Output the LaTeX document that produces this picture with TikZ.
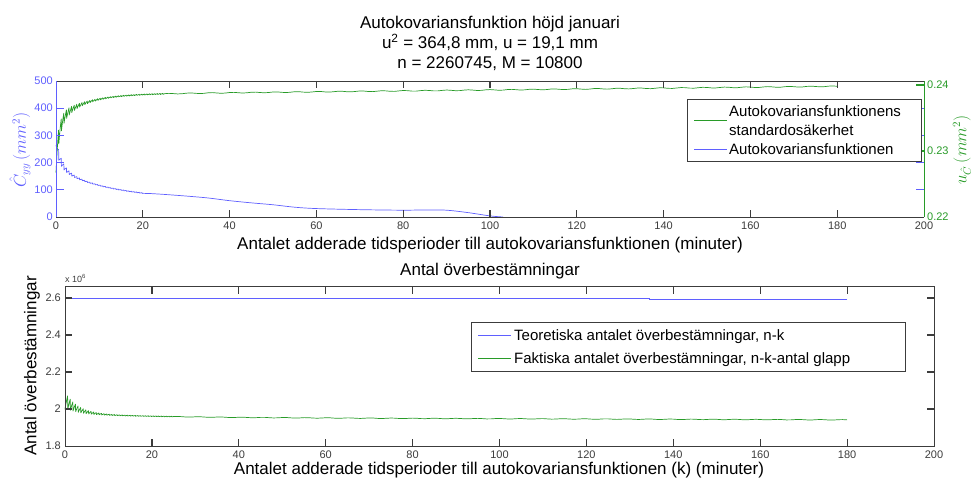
\documentclass[tikz,border=0pt]{standalone}
\usepackage{fontspec}
\setmainfont{Liberation Sans}
\usepackage{amsmath}

\definecolor{plotblue}{RGB}{95,95,255}
\definecolor{plotgreen}{RGB}{40,155,40}
\definecolor{axgray}{RGB}{60,60,60}

\begin{document}
\begin{tikzpicture}[x=1pt,y=1pt,
    lbl/.style={font=\fontsize{17}{20}\selectfont,inner sep=0pt},
    ticklbl/.style={font=\fontsize{11}{13}\selectfont,text=axgray,inner sep=0pt},
    legtext/.style={font=\fontsize{15}{18}\selectfont,inner sep=0pt,anchor=base west},
    axline/.style={axgray,line width=0.9pt},
    tickmark/.style={line width=1.2pt},
    curve/.style={line width=0.7pt,line join=round},
    declare function={
        gtop(\t)=450+0.17*\t-150*exp(max(-9,-\t/0.8))-100*exp(max(-9,-\t/6));
        btop(\t)=30*exp(max(-9,-\t/0.3))+75*exp(max(-9,-\t/1.2))+80*exp(max(-9,-\t/8))+105-1.2*\t;
        gbot(\t)=0.155-0.00008*\t+0.07*exp(max(-9,-\t/3))+0.02*exp(max(-9,-\t/20));
    }]
\useasboundingbox (0,0) rectangle (972,-481);

% titles
\node[lbl,anchor=base] (title1) at (490,-28.3) {Autokovariansfunktion höjd januari};
\node[lbl,anchor=base] (title2) at (490,-48.3) {u\textsuperscript{2} = 364,8 mm, u = 19,1 mm};
\node[lbl,anchor=base] (title3) at (490,-68.3) {n = 2260745, M = 10800};

% upper plot
\begin{scope}[shift={(56,-217)},x=4.34pt,y=0.272pt]
    \draw[plotblue,curve] plot[domain=0:20,samples=401]
        (\x,{btop(\x)+(50*exp(max(-9,-\x/2))+3)*(mod(\x,0.6)/0.6-0.5)})
        -- plot[smooth] coordinates {(22,86) (25,83) (30,77) (35,70) (40,60) (45,52) (50,45)
        (55,36) (60,31) (70,27) (80,25) (85,26) (90,25) (95,16) (100,4) (103,0)};
    \draw[plotgreen,curve] plot[domain=0:25,samples=501]
        (\x,{gtop(\x)+(70*exp(max(-9,-\x/3))+4)*(mod(\x,0.6)/0.6-0.5)})
        -- plot[domain=25:180,samples=156] (\x,{gtop(\x)+1.5*sin(\x*73)});
    \draw[axline] (0,0) -- (200,0) (0,500) -- (200,500);
    \draw[plotblue,line width=0.9pt] (0,0) -- (0,500);
    \draw[plotgreen,line width=0.9pt] (200,0) -- (200,500);
    % ticks
    \draw[axgray,tickmark] \foreach \k in {20,40,...,180} {(\k,0) -- (\k,27) (\k,500) -- (\k,473)};
    \draw[plotblue,tickmark] \foreach \v in {100,200,300,400} {(0,\v) -- (1.85,\v) (200,\v) -- (198.15,\v)};
    \draw[plotgreen,tickmark] (200,242.5) -- (198.15,242.5) (200,485) -- (198.15,485);
    \foreach \k in {0,20,...,200}
        \node[ticklbl,anchor=base] (tx\k) at ([yshift=-13pt]\k,0) {\k};
    \foreach \v in {0,100,...,500}
        \node[ticklbl,text=plotblue,anchor=east] (ty\v) at ([xshift=-3pt]0,\v) {\v};
    \foreach \v/\lab in {0/0.22,242.5/0.23,485/0.24}
        \node[ticklbl,text=plotgreen,anchor=west] (tr\lab) at ([xshift=3pt]200,\v) {\lab};
\end{scope}
\node[rotate=90,text=plotblue,font=\fontsize{16}{18}\selectfont,inner sep=0pt] (ylabtop) at (20,-150) {$\hat{C}_{yy}\,(mm^2)$};
\node[rotate=90,text=plotgreen,font=\fontsize{16}{18}\selectfont,inner sep=0pt] (ylabright) at (962,-150) {$u_{\hat{C}}\,(mm^2)$};
\node[lbl,anchor=base] (xlabtop) at (490,-250) {Antalet adderade tidsperioder till autokovariansfunktionen (minuter)};

% upper legend
\draw[axline,fill=white] (687,-99) rectangle (921,-161);
\draw[plotgreen,curve] (694,-120) -- (727,-120);
\draw[plotblue,curve] (694,-149) -- (727,-149);
\node[legtext] (leg1) at (729,-117) {Autokovariansfunktionens};
\node[legtext] (leg2) at (729,-135.5) {standardosäkerhet};
\node[legtext] (leg3) at (729,-154.5) {Autokovariansfunktionen};

% lower plot
\node[lbl,anchor=base] (title4) at (490,-276) {Antal överbestämningar};
\node[font=\fontsize{9}{10}\selectfont,text=axgray,inner sep=0pt,anchor=base west] (expo) at (65,-282) {x 10\textsuperscript{6}};
\begin{scope}[shift={(65,-446)},x=4.345pt,y=185pt]
    \draw[plotblue,line width=1pt] (0,0.795) -- (134.6,0.795) -- (134.6,0.79) -- (180,0.79);
    \draw[plotgreen,curve] plot[domain=0:25,samples=501]
        (\x,{gbot(\x)+(0.09*exp(max(-9,-\x/3))+0.004)*(mod(\x,0.6)/0.6-0.5)})
        -- plot[domain=25:180,samples=156] (\x,{gbot(\x)+0.0015*sin(\x*73)});
    \draw[axline] (0,0) rectangle (200,0.86);
    % ticks
    \draw[axgray,tickmark] \foreach \k in {20,40,...,180} {(\k,0) -- (\k,0.04) (\k,0.86) -- (\k,0.82)};
    \draw[axgray,tickmark] \foreach \v in {0.2,0.4,0.6,0.8} {(0,\v) -- (1.7,\v) (200,\v) -- (198.3,\v)};
    \foreach \k in {0,20,...,200}
        \node[ticklbl,anchor=base] (bx\k) at ([yshift=-12pt]\k,0) {\k};
    \foreach \v/\lab in {0/1.8,0.2/2,0.4/2.2,0.6/2.4,0.8/2.6}
        \node[ticklbl,anchor=east] (by\v) at ([xshift=-4pt]0,\v) {\lab};
\end{scope}
\node[lbl,rotate=90] (ylabbot) at (32,-366) {Antal överbestämningar};
\node[lbl,anchor=base] (xlabbot) at (499,-474) {Antalet adderade tidsperioder till autokovariansfunktionen (k) (minuter)};

% lower legend
\draw[axline,fill=white] (471,-322.7) rectangle (905,-371.7);
\draw[plotblue,curve] (478,-335) -- (511,-335);
\draw[plotgreen,curve] (478,-358) -- (511,-358);
\node[legtext] (leg4) at (514,-340.5) {Teoretiska antalet överbestämningar, n-k};
\node[legtext] (leg5) at (514,-363.5) {Faktiska antalet överbestämningar, n-k-antal glapp};
\end{tikzpicture}
\end{document}
